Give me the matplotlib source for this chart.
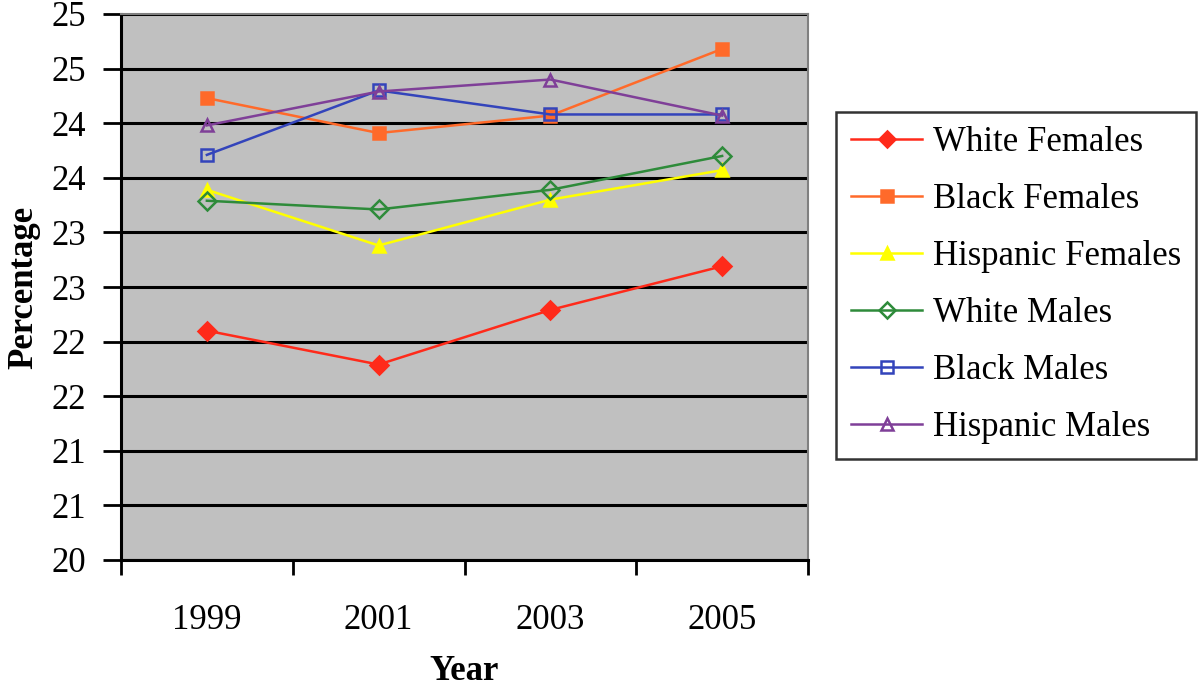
import matplotlib
matplotlib.use("Agg")
import matplotlib.pyplot as plt
import numpy as np

# data
years = ["1999", "2001", "2003", "2005"]
white_females = [22.10, 21.79, 22.29, 22.69]
black_females = [24.23, 23.91, 24.07, 24.68]
hispanic_females = [23.39, 22.88, 23.30, 23.57]
white_males = [23.29, 23.21, 23.39, 23.70]
black_males = [23.71, 24.30, 24.08, 24.08]
hispanic_males = [23.98, 24.29, 24.40, 24.07]
y_tick_labels = ["20", "21", "21", "22", "22", "23", "23", "24", "24", "25", "25"]

plt.rcParams['font.family'] = ['Liberation Serif', 'DejaVu Serif']

fig = plt.figure(figsize=(12, 6.91), dpi=100)
ax = fig.add_axes([121 / 1200, 131 / 691, 687 / 1200, 546 / 691])
ax.set_facecolor("#c0c0c0")

x = np.arange(len(years))
series = [
    ("White Females", white_females, "#ff2a1a", "D", "#ff2a1a"),
    ("Black Females", black_females, "#ff6a2a", "s", "#ff6a2a"),
    ("Hispanic Females", hispanic_females, "#ffff00", "^", "#ffff00"),
    ("White Males", white_males, "#2e8b3a", "D", "none"),
    ("Black Males", black_males, "#3344bb", "s", "none"),
    ("Hispanic Males", hispanic_males, "#7f3f98", "^", "none"),
]
for name, vals, col, mk, fc in series:
    ax.plot(x, vals, color=col, lw=1.8, marker=mk, markersize=9,
            markerfacecolor=fc, markeredgecolor=col, markeredgewidth=1.8,
            label=name, zorder=3)

ax.set_xlim(-0.5, 3.5)
ax.set_ylim(20, 25)
yt = np.arange(20, 25.01, 0.5)
ax.set_yticks(yt)
ax.set_yticklabels(y_tick_labels)
ax.yaxis.grid(True, color="black", lw=2.2)
ax.set_axisbelow(True)

ax.set_xticks(np.arange(-0.5, 3.6, 1))
ax.set_xticklabels([])
ax.set_xticks(x, minor=True)
ax.set_xticklabels(years, minor=True)
ax.tick_params(axis="x", which="minor", length=0, pad=32, labelsize=25)
ax.tick_params(axis="x", which="major", length=11, width=2, direction="out")
ax.tick_params(axis="y", length=13, width=2, direction="out", pad=12, labelsize=25)

for side in ["left", "bottom"]:
    ax.spines[side].set_linewidth(2.2)
    ax.spines[side].set_color("black")
for side in ["top", "right"]:
    ax.spines[side].set_linewidth(1.5)
    ax.spines[side].set_color("#808080")

ax.set_ylabel("Percentage", fontsize=25, fontweight="bold", labelpad=8)
ax.set_xlabel("Year", fontsize=25, fontweight="bold", labelpad=13)

leg = fig.legend(loc="center left", bbox_to_anchor=(836 / 1200, 0.587),
                 fontsize=25, frameon=True, fancybox=False, edgecolor="black",
                 handlelength=2.05, handletextpad=0.3, labelspacing=0.69,
                 borderpad=0.43, borderaxespad=0, markerscale=0.9)
leg.get_frame().set_linewidth(1.8)

fig.savefig("out.png", dpi=100)
